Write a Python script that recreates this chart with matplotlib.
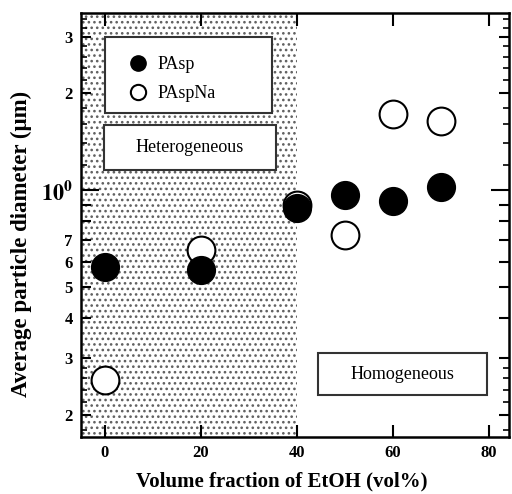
import matplotlib
matplotlib.use("Agg")
import matplotlib.pyplot as plt
from matplotlib.patches import Rectangle
from matplotlib.lines import Line2D
from matplotlib.ticker import FixedLocator, FixedFormatter, NullFormatter

# EtOH volume fraction (vol%) and average particle diameter (um)
etoh_pasp = [0, 20, 40, 50, 60, 70]
diam_pasp = [0.575, 0.565, 0.88, 0.965, 0.925, 1.02]

etoh_paspna = [0, 20, 40, 50, 60, 70]
diam_paspna = [0.257, 0.65, 0.9, 0.725, 1.72, 1.64]

x_ticks = [0, 20, 40, 60, 80]
y_label_ticks = [0.2, 0.3, 0.4, 0.5, 0.6, 0.7, 0.8, 0.9, 1.0, 2.0, 3.0]
y_tick_labels = ["2", "3", "4", "5", "6", "7", "", "", r"$\mathbf{10^0}$", "2", "3"]
y_small_ticks = [0.18, 0.22, 0.24, 0.26, 0.28, 1.2, 1.4, 1.6, 1.8,
                 2.2, 2.4, 2.6, 2.8, 3.2, 3.4]

heterogeneous_limit = 40

plt.rcParams["font.family"] = ["Liberation Serif", "DejaVu Serif"]
plt.rcParams["mathtext.fontset"] = "stix"
plt.rcParams["hatch.linewidth"] = 1.1

fig = plt.figure(figsize=(5.12, 4.94), dpi=100)
ax = fig.add_axes([81 / 512, 1 - 437 / 494, 428 / 512, 424 / 494])
ax.set_yscale("log")
ax.set_xlim(-5, 84.2)
ax.set_ylim(0.171, 3.55)

# dotted heterogeneous region
ax.axvspan(-5, heterogeneous_limit, facecolor="white", hatch="...",
           edgecolor="#606060", linewidth=0, zorder=0)

ax.plot(etoh_paspna, diam_paspna, linestyle="none", marker="o", markersize=20,
        markerfacecolor="white", markeredgecolor="black", markeredgewidth=1.5,
        zorder=3)
ax.plot(etoh_pasp, diam_pasp, linestyle="none", marker="o", markersize=20,
        markerfacecolor="black", markeredgecolor="black", zorder=4)

# legend frame and entries
ax.add_patch(Rectangle((0.056, 0.764), 0.39, 0.179, transform=ax.transAxes,
                       facecolor="white", edgecolor="#333333", linewidth=1.5,
                       zorder=5))
handles = [Line2D([], [], linestyle="none", marker="o", markersize=11,
                  markerfacecolor="black", markeredgecolor="black"),
           Line2D([], [], linestyle="none", marker="o", markersize=11,
                  markerfacecolor="white", markeredgecolor="black",
                  markeredgewidth=1.5)]
leg = ax.legend(handles, ["PAsp", "PAspNa"], loc="center left",
                bbox_to_anchor=(0.091, 0.844), frameon=False, fontsize=13,
                handlelength=1.0, handletextpad=0.6, labelspacing=0.65,
                borderpad=0)
leg.set_zorder(6)

ax.add_patch(Rectangle((0.054, 0.630), 0.402, 0.106, transform=ax.transAxes,
                       facecolor="white", edgecolor="#333333", linewidth=1.5,
                       zorder=5))
ax.text(0.255, 0.683, "Heterogeneous", transform=ax.transAxes, ha="center",
        va="center", fontsize=13, zorder=6)

ax.add_patch(Rectangle((0.554, 0.099), 0.395, 0.099, transform=ax.transAxes,
                       facecolor="white", edgecolor="#333333", linewidth=1.5,
                       zorder=5))
ax.text(0.7515, 0.1485, "Homogeneous", transform=ax.transAxes, ha="center",
        va="center", fontsize=13, zorder=6)

# axes styling
for s in ax.spines.values():
    s.set_linewidth(1.8)

ax.set_xticks(x_ticks)
ax.set_xticklabels([str(v) for v in x_ticks], fontweight="bold", fontsize=12)
ax.yaxis.set_major_locator(FixedLocator(y_label_ticks))
ax.yaxis.set_major_formatter(FixedFormatter(y_tick_labels))
ax.yaxis.set_minor_locator(FixedLocator(y_small_ticks))
ax.yaxis.set_minor_formatter(NullFormatter())
for lbl, v in zip(ax.get_yticklabels(), y_label_ticks):
    lbl.set_fontweight("bold")
    lbl.set_fontsize(16 if v == 1.0 else 12)

ax.tick_params(axis="both", which="major", direction="in", top=True,
               right=True, length=7, width=1.5, pad=6)
ax.tick_params(axis="y", which="minor", direction="in", left=True,
               right=True, length=4, width=1.2)
ax.tick_params(axis="x", which="major", length=9)
for t, v in zip(ax.yaxis.get_major_ticks(), y_label_ticks):
    if v == 1.0:
        t.tick1line.set_markersize(13)
        t.tick2line.set_markersize(13)

ax.set_xlabel("Volume fraction of EtOH (vol%)", fontweight="bold",
              fontsize=15, va="center")
ax.set_ylabel("Average particle diameter (\u03bcm)", fontweight="bold",
              fontsize=16.5, va="center")
ax.xaxis.set_label_coords(0.47, -0.104)
ax.yaxis.set_label_coords(-0.14, 0.455)

fig.savefig("out.png", dpi=100)
